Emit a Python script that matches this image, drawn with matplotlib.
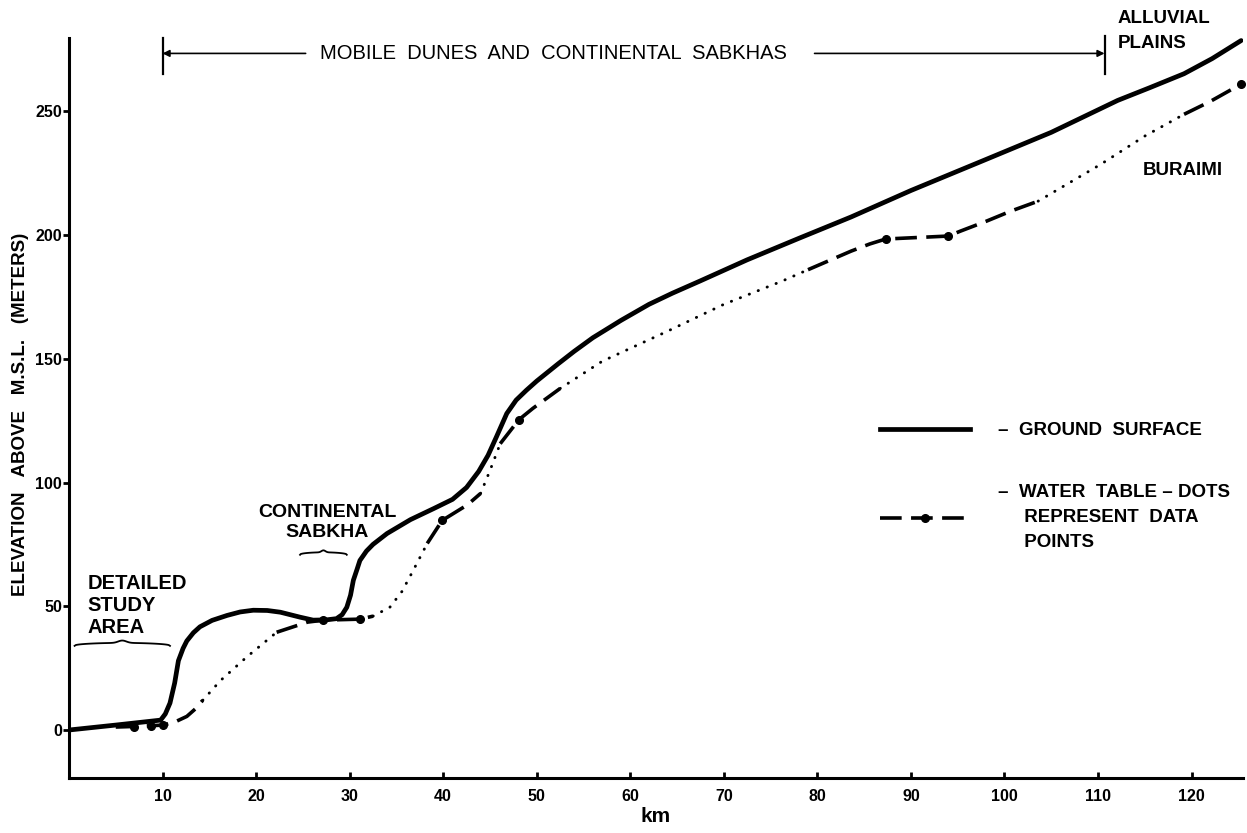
import numpy as np
import matplotlib
matplotlib.use("Agg")
import matplotlib.pyplot as plt
from matplotlib.lines import Line2D

plt.rcParams['font.family'] = ['Liberation Sans', 'DejaVu Sans']

# Ground surface profile (km, m above M.S.L.)
ground_km = [0, 5, 9.8, 10.3, 10.8, 11.3, 11.7, 12.2, 12.6, 13.3, 14, 15.3, 16.9, 18.3, 19.7,
             21.2, 22.6, 24.7, 26.1, 27.5, 28.6, 29.2, 29.7, 30.1, 30.4, 30.8, 31.1, 31.8,
             32.5, 34, 36.5, 39, 41, 42.5, 43.8, 44.8, 45.7, 46.8, 47.8, 48.9, 50, 52.3, 54,
             56, 59, 62, 64.5, 67.5, 72.5, 78.1, 83.6, 90, 97.8, 105, 112.1, 115.5,
             119.2, 122.2, 125.3]
ground_m = [0, 2, 4, 6.5, 10.9, 19, 28, 33, 36, 39.3, 41.7, 44.3, 46.3, 47.7, 48.4,
            48.3, 47.6, 45.6, 44.4, 44.5, 45, 46.6, 49.6, 54.5, 60.5, 65, 68.5, 72.3,
            75, 79.4, 85, 89.5, 93.2, 98, 104.5, 111, 118.5, 127.9, 133.3, 137.3, 141, 148, 153,
            158.5, 165.5, 172, 176.5, 181.5, 190, 198.8, 207.3, 218, 230.2, 241.5, 254.4, 259.5,
            265.2, 271.3, 278.6]

# Water table profile
water_km = [5, 7.5, 10.1, 11.3, 12.6, 13.5, 14.3, 16.2, 19, 22.2, 25.5, 27.2, 31.1, 32.5,
            34.3, 35.6, 36.8, 38.3, 39.9, 41.1, 42.6, 44, 45, 46.1, 48.1, 49.6, 52.5, 57,
            63.9, 70, 76.3, 79, 83.6, 85.6, 87.3, 94, 95.3, 98, 100.7, 103.6, 110.3, 115,
            119.2, 122, 125.3]
water_m = [1.2, 1.5, 2, 3.2, 5.5, 8.5, 12, 20, 29.5, 39.5, 43.6, 44.4, 44.8, 46,
           49.6, 56, 64.5, 75.4, 84.7, 87.5, 91, 95.6, 104.8, 115.7, 125.4, 130, 138, 149,
           161, 172, 181.5, 186, 193.5, 196.4, 198.4, 199.6, 201.6, 205.5, 209.7, 213.7, 228.6, 240,
           248.8, 254, 261]

# Water table data points (wells)
well_km = [7.0, 8.8, 10.1, 27.2, 31.1, 39.9, 48.1, 87.3, 94.0, 125.3]
well_m = [1.4, 1.8, 2.0, 44.4, 44.8, 84.7, 125.4, 198.4, 199.6, 261]

# reaches of the water table drawn dashed (rest dotted)
dashed_reaches = [(5, 14.3), (22.2, 32.5), (38.3, 44.0), (46.1, 52.5), (79.0, 103.6), (119.2, 125.3)]

# annotation spans
zone_start, zone_end = 10, 110.7
study_span = (0.6, 10.8)
sabkha_span = (24.7, 29.7)

fig = plt.figure(figsize=(12.47, 8.33), dpi=100)
ax = fig.add_axes([0.0553, 0.066, 0.9415, 0.888])

ax.plot(ground_km, ground_m, color='k', lw=3.4, solid_capstyle='round',
        solid_joinstyle='round', zorder=3)

wx = np.array(water_km)
wy = np.array(water_m)
breaks = sorted(set([b for r in dashed_reaches for b in r] + [wx[0], wx[-1]]))
for a, b in zip(breaks[:-1], breaks[1:]):
    sel = (wx >= a - 1e-9) & (wx <= b + 1e-9)
    if (a, b) in dashed_reaches:
        ax.plot(wx[sel], wy[sel], color='k', lw=2.6, linestyle=(0, (6, 2.6)), zorder=2)
    else:
        ax.plot(wx[sel], wy[sel], color='k', lw=2.1, linestyle=(0, (0.1, 3.2)),
                dash_capstyle='round', zorder=2)
ax.plot(well_km, well_m, 'o', color='k', ms=5.5, zorder=4, clip_on=False)

# axes styling
ax.set_xlim(0, 125.5)
ax.set_ylim(-19.4, 279.5)
ax.set_xticks(range(10, 121, 10))
ax.set_yticks(range(0, 251, 50))
for s in ['top', 'right']:
    ax.spines[s].set_visible(False)
for s in ['left', 'bottom']:
    ax.spines[s].set_linewidth(2.2)
ax.tick_params(axis='x', direction='in', length=4, width=2, pad=8, labelsize=11.5)
ax.tick_params(axis='y', direction='out', length=4, width=2, pad=1, labelsize=11.5)
for lab in ax.get_xticklabels() + ax.get_yticklabels():
    lab.set_fontweight('bold')

ax.set_xlabel('km', fontsize=15, fontweight='bold', labelpad=2)
ax.set_ylabel('ELEVATION   ABOVE   M.S.L.   (METERS)', fontsize=13.5, fontweight='bold')
ax.yaxis.set_label_coords(-0.034, 0.491)

# zone annotation at top
yz = 273.4
ax.plot([zone_start, zone_start], [265, 279.5], color='k', lw=1.6, clip_on=False)
ax.plot([zone_end, zone_end], [265, 280.6], color='k', lw=1.6, clip_on=False)
ax.annotate('', xy=(zone_start, yz), xytext=(25.3, yz),
            arrowprops=dict(arrowstyle='-|>', lw=1.2, color='k', mutation_scale=10,
                            shrinkA=0, shrinkB=0))
ax.annotate('', xy=(zone_end, yz), xytext=(79.7, yz),
            arrowprops=dict(arrowstyle='-|>', lw=1.2, color='k', mutation_scale=10,
                            shrinkA=0, shrinkB=0))
ax.text(51.8, yz, 'MOBILE  DUNES  AND  CONTINENTAL  SABKHAS', ha='center', va='center',
        fontsize=14.5)

ax.text(112.1, 282.3, 'ALLUVIAL\nPLAINS', ha='left', va='center', fontsize=13.5,
        fontweight='bold', linespacing=1.6, clip_on=False)
ax.text(114.8, 226.2, 'BURAIMI', ha='left', va='center', fontsize=13.5, fontweight='bold')
ax.text(27.6, 84, 'CONTINENTAL\nSABKHA', ha='center', va='center', fontsize=14,
        fontweight='bold', linespacing=1.25)
ax.text(2.0, 50.4, 'DETAILED\nSTUDY\nAREA', ha='left', va='center',
        fontsize=14.5, fontweight='bold', linespacing=1.2)


def brace(span, y0, amp):
    xs = np.linspace(span[0], span[1], 80)
    t = (xs - span[0]) / (span[1] - span[0])
    ys = y0 + amp * (np.abs(np.sin(np.pi * t)) ** 0.4) + amp * 0.8 * np.exp(-((t - 0.5) / 0.06) ** 2)
    ax.plot(xs, ys, color='k', lw=1.3)


brace(study_span, 34.0, 1.2)
brace(sabkha_span, 70.8, 1.0)

# legend
h_ground = Line2D([], [], color='k', lw=3.4)
h_water = Line2D([], [], color='k', lw=2.6, linestyle=(0, (6, 2.6)), marker='o', ms=5.5)
leg = ax.legend([h_ground, h_water],
                ['\u2013  GROUND  SURFACE',
                 '\u2013  WATER  TABLE \u2013 DOTS\n     REPRESENT  DATA\n     POINTS'],
                loc='upper left', bbox_to_anchor=(0.691, 0.481), frameon=False,
                borderpad=0, borderaxespad=0,
                handlelength=4.8, handletextpad=1.5, labelspacing=2.4, numpoints=1,
                prop={'size': 13.5, 'weight': 'bold'})
leg.get_texts()[1].set_linespacing(1.62)

fig.savefig('out.png', dpi=100)
